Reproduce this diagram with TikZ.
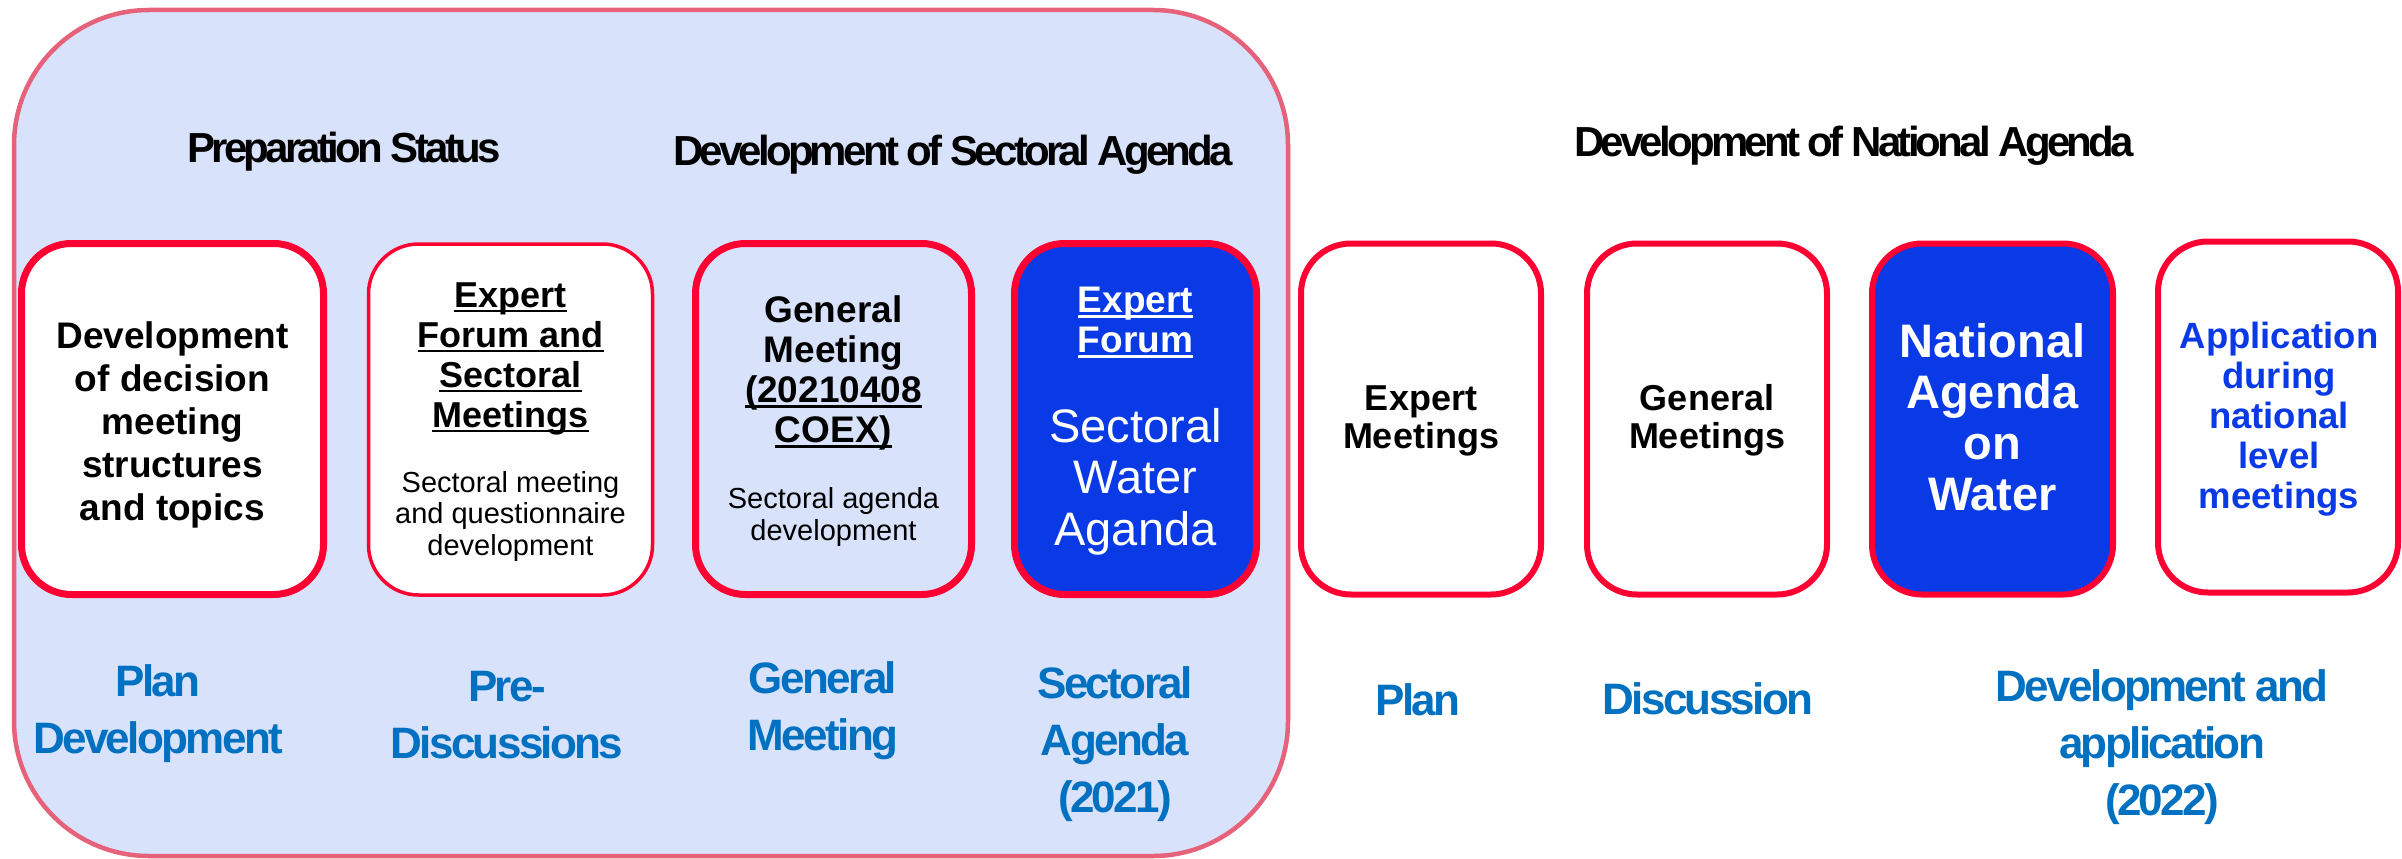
\documentclass[tikz,border=0pt]{standalone}
\usepackage{fontspec}
\setmainfont{Liberation Sans}
\newfontfamily\headfont[LetterSpace=-9]{Liberation Sans}
\newfontfamily\labfont[LetterSpace=-6]{Liberation Sans}
\definecolor{bgblue}{RGB}{217,226,251}
\definecolor{pinkline}{RGB}{230,98,122}
\definecolor{boxred}{RGB}{255,0,51}
\definecolor{fillblue}{RGB}{10,58,230}
\definecolor{labblue}{RGB}{0,112,192}
\newcommand\ulx[1]{\setbox0\hbox{#1}\rlap{\rule[-0.15em]{\wd0}{0.07em}}\box0}
\begin{document}
\begin{tikzpicture}[x=1pt,y=-1pt,
  stagebox/.style={draw=boxred, rounded corners=50pt, minimum height=351pt, inner sep=0pt},
  head/.style={anchor=base, font=\headfont\bfseries\fontsize{42}{48}\selectfont},
  lab/.style={anchor=base, align=center, text=labblue, font=\labfont\bfseries\fontsize{44}{57}\selectfont},
  boxtext/.style={anchor=base, align=center}
]
\useasboundingbox (0,0) rectangle (2402,859);
\fill[white] (0,0) rectangle (2402,859);
% big panel
\node[draw=pinkline, fill=bgblue, line width=4.5pt, rounded corners=135pt,
  minimum width=1274pt, minimum height=846pt, inner sep=0pt] (panel) at (651,433) {};

% headings
\node[head] (h1) at (344,162) {Preparation Status};
\node[head] (h2) at (953,165) {Development of Sectoral Agenda};
\node[head] (h3) at (1854,156) {Development of National Agenda};

% boxes
\node[stagebox, fill=white, line width=7pt, minimum width=302pt] (b1) at (172.5,419) {};
\node[stagebox, fill=white, line width=3.5pt, minimum width=284pt] (b2) at (510.5,419.5) {};
\node[stagebox, fill=bgblue, line width=7pt, minimum width=276pt] (b3) at (833.5,419) {};
\node[stagebox, fill=fillblue, line width=7pt, minimum width=242pt] (b4) at (1135.5,419) {};
\node[stagebox, fill=white, line width=6pt, minimum width=240pt] (b5) at (1421,419) {};
\node[stagebox, fill=white, line width=6pt, minimum width=240pt] (b6) at (1707,419) {};
\node[stagebox, fill=fillblue, line width=6pt, minimum width=241pt] (b7) at (1992.5,419) {};
\node[stagebox, fill=white, line width=6pt, minimum width=240pt] (b8) at (2278,417) {};

% box texts (anchor base = baseline of last line)
\node[boxtext, font=\bfseries\fontsize{37}{43}\selectfont] (t1) at (172.5,520)
  {Development\\of decision\\meeting\\structures\\and topics};
\node[boxtext, font=\bfseries\fontsize{36}{40}\selectfont] (t2a) at (510.5,427)
  {\ulx{Expert}\\\ulx{Forum and}\\\ulx{Sectoral}\\\ulx{Meetings}};
\node[boxtext, font=\fontsize{29}{31.5}\selectfont] (t2b) at (510.5,555)
  {Sectoral meeting\\and questionnaire\\development};
\node[boxtext, font=\bfseries\fontsize{37}{40}\selectfont] (t3a) at (833.5,442)
  {General\\Meeting\\\ulx{(20210408}\\\ulx{COEX)}};
\node[boxtext, font=\fontsize{29}{32}\selectfont] (t3b) at (833.5,540)
  {Sectoral agenda\\development};
\node[boxtext, text=white, font=\bfseries\fontsize{37}{40}\selectfont] (t4a) at (1135.5,352)
  {\ulx{Expert}\\\ulx{Forum}};
\node[boxtext, text=white, font=\fontsize{47}{51.5}\selectfont] (t4b) at (1135.5,545)
  {Sectoral\\Water\\Aganda};
\node[boxtext, font=\bfseries\fontsize{36}{38}\selectfont] (t5) at (1421,448)
  {Expert\\Meetings};
\node[boxtext, font=\bfseries\fontsize{36}{38}\selectfont] (t6) at (1707,448)
  {General\\Meetings};
\node[boxtext, text=white, font=\bfseries\fontsize{47}{51}\selectfont] (t7) at (1992.5,510)
  {National\\Agenda\\on\\Water};
\node[boxtext, text=fillblue, font=\bfseries\fontsize{36.5}{40}\selectfont] (t8) at (2279,508)
  {Application\\during\\national\\level\\meetings};

% stage labels
\node[lab] (l1) at (158,753) {Plan\\Development};
\node[lab] (l2) at (507,758) {Pre-\\Discussions};
\node[lab] (l3) at (823,750) {General\\Meeting};
\node[lab] (l4) at (1115,812) {Sectoral\\Agenda\\(2021)};
\node[lab] (l5) at (1418,715) {Plan};
\node[lab] (l6) at (1708,714) {Discussion};
\node[lab] (l7) at (2162,815) {Development and\\application\\(2022)};
\end{tikzpicture}
\end{document}
